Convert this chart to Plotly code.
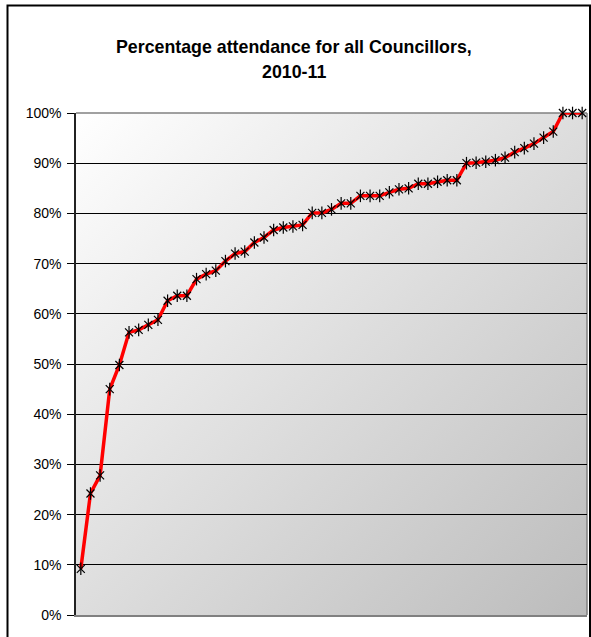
import base64
import plotly.graph_objects as go

# Attendance per councillor, sorted ascending (percent)
councillor_no = list(range(1, 54))
attendance_pct = [
    9.2, 24.2, 27.8, 45.0, 49.8, 56.3, 56.8, 57.8, 58.8, 62.6,
    63.6, 63.6, 66.9, 67.9, 68.6, 70.5, 72.0, 72.4, 74.2, 75.2,
    76.7, 77.2, 77.4, 77.7, 80.1, 80.1, 80.8, 82.0, 82.0, 83.5,
    83.5, 83.5, 84.2, 84.8, 85.0, 85.9, 85.9, 86.3, 86.6, 86.6,
    90.0, 90.1, 90.3, 90.6, 91.1, 92.2, 93.0, 93.9, 95.1, 96.3,
    100.0, 100.0, 100.0,
]
y_ticks = [0, 10, 20, 30, 40, 50, 60, 70, 80, 90, 100]
y_tick_labels = [f"{t}%" for t in y_ticks]

W, H = 591, 637
ML, MR, MT, MB = 76, 4, 113, 22
PW, PH = W - ML - MR, H - MT - MB

def px_x(px):
    return (px - ML) / PW

def px_y(py):
    return 1 - (py - MT) / PH

# diagonal grey gradient for the plot area background
svg = (
    '<svg xmlns="http://www.w3.org/2000/svg" width="100" height="100" preserveAspectRatio="none">'
    '<defs><linearGradient id="g" x1="0" y1="0" x2="1" y2="1">'
    '<stop offset="0" stop-color="#ffffff"/><stop offset="1" stop-color="#bcbcbc"/>'
    '</linearGradient></defs><rect width="100" height="100" fill="url(#g)"/></svg>'
)
bg_src = "data:image/svg+xml;base64," + base64.b64encode(svg.encode()).decode()

y_vals = [v / 100 for v in attendance_pct]

fig = go.Figure()
fig.add_trace(go.Scatter(
    x=councillor_no, y=y_vals, mode="lines", cliponaxis=False,
    line=dict(color="#ff0000", width=3.5), hoverinfo="skip", showlegend=False,
))
fig.add_trace(go.Scatter(
    x=councillor_no, y=y_vals, mode="markers", cliponaxis=False,
    marker=dict(symbol="x-thin-open", size=8, color="#000000",
                line=dict(color="#000000", width=1.2)),
    showlegend=False,
))
fig.add_trace(go.Scatter(
    x=councillor_no, y=y_vals, mode="markers", cliponaxis=False,
    marker=dict(symbol="line-ns-open", size=9, color="#000000",
                line=dict(color="#000000", width=1.2)),
    hoverinfo="skip", showlegend=False,
))

fig.update_layout(
    width=W, height=H,
    margin=dict(l=ML, r=MR, t=MT, b=MB),
    paper_bgcolor="#ffffff",
    plot_bgcolor="rgba(0,0,0,0)",
    font=dict(family="Liberation Sans, Arial, sans-serif", color="#000000"),
    images=[dict(
        source=bg_src, xref="paper", yref="paper", x=0, y=1,
        sizex=1, sizey=1, sizing="stretch", xanchor="left", yanchor="top",
        layer="below",
    )],
    xaxis=dict(
        range=[0.5, 53.5], showticklabels=False, ticks="", showgrid=False,
        zeroline=False, showline=True, linecolor="#808080", linewidth=2,
    ),
    yaxis=dict(
        range=[0, 1], tickvals=[t / 100 for t in y_ticks], ticktext=y_tick_labels,
        showgrid=True, gridcolor="#000000", gridwidth=1, zeroline=False,
        showline=True, linecolor="#222222", linewidth=1.5,
        ticks="outside", ticklen=7, tickcolor="#000000", tickwidth=1,
        tickfont=dict(size=14, color="#000000"), ticklabelstandoff=3,
    ),
    annotations=[
        dict(text="<b>Percentage attendance for all Councillors,</b>", xref="paper", yref="paper",
             x=px_x(294), y=px_y(47), xanchor="center", yanchor="middle", showarrow=False,
             font=dict(size=17.8)),
        dict(text="<b>2010-11</b>", xref="paper", yref="paper",
             x=px_x(294), y=px_y(72), xanchor="center", yanchor="middle", showarrow=False,
             font=dict(size=17.8)),
    ],
    shapes=[
        # outer chart frame
        dict(type="rect", xref="paper", yref="paper",
             x0=px_x(7.5), x1=px_x(590), y0=px_y(660), y1=px_y(5.5),
             line=dict(color="#000000", width=2), layer="above"),
        # plot area border (top and right)
        dict(type="line", xref="paper", yref="paper", x0=0, x1=1, y0=1, y1=1,
             line=dict(color="#808080", width=1.5), layer="below"),
        dict(type="line", xref="paper", yref="paper", x0=1, x1=1, y0=0, y1=1,
             line=dict(color="#808080", width=1.5), layer="below"),
    ],
)

fig.write_html("out.html")
